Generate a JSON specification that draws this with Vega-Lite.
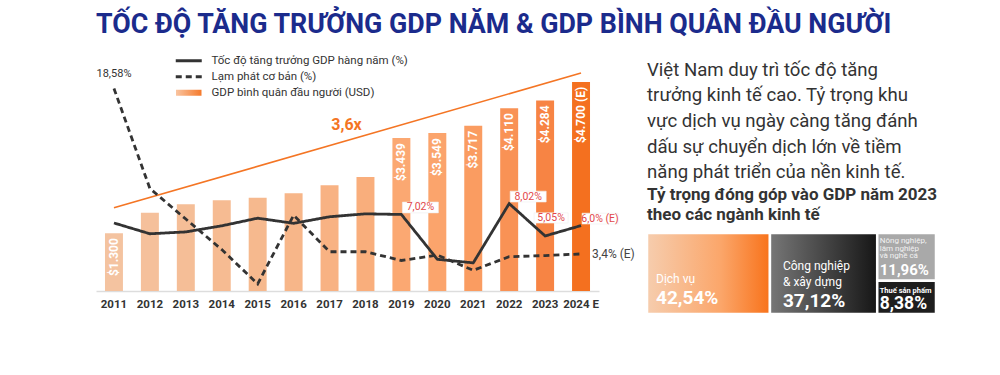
{
  "$schema": "https://vega.github.io/schema/vega-lite/v6.json",
  "background": "white",
  "padding": {"left": 96, "top": 12, "right": 5, "bottom": 5},
  "config": {
    "font": "Roboto",
    "view": {"stroke": null},
    "axisX": {"labelFontWeight": "bold", "labelFontSize": 11.5, "labelColor": "#333333", "ticks": false, "domainColor": "#dddddd", "domainWidth": 1.5, "labelPadding": 7, "labelAngle": 0, "title": null, "grid": false}
  },
  "title": {"text": "TỐC ĐỘ TĂNG TRƯỞNG GDP NĂM & GDP BÌNH QUÂN ĐẦU NGƯỜI", "anchor": "start", "font": "Roboto", "fontSize": 26.8, "fontWeight": "bold", "color": "#1b2b8c", "offset": 16},
  "datasets": {
    "gdp": [
      {"year": "2011", "usd": 1300, "label": "$1.300"},
      {"year": "2012", "usd": 1760, "label": ""},
      {"year": "2013", "usd": 1950, "label": ""},
      {"year": "2014", "usd": 2040, "label": ""},
      {"year": "2015", "usd": 2097, "label": ""},
      {"year": "2016", "usd": 2200, "label": ""},
      {"year": "2017", "usd": 2375, "label": ""},
      {"year": "2018", "usd": 2560, "label": ""},
      {"year": "2019", "usd": 3439, "label": "$3.439"},
      {"year": "2020", "usd": 3549, "label": "$3.549"},
      {"year": "2021", "usd": 3717, "label": "$3.717"},
      {"year": "2022", "usd": 4110, "label": "$4.110"},
      {"year": "2023", "usd": 4284, "label": "$4.284"},
      {"year": "2024 E", "usd": 4700, "label": "$4.700 (E)"}
    ],
    "rates": [
      {"year": "2011", "series": "Tốc độ tăng trưởng GDP hàng năm (%)", "value": 6.24, "label": ""},
      {"year": "2012", "series": "Tốc độ tăng trưởng GDP hàng năm (%)", "value": 5.25, "label": ""},
      {"year": "2013", "series": "Tốc độ tăng trưởng GDP hàng năm (%)", "value": 5.42, "label": ""},
      {"year": "2014", "series": "Tốc độ tăng trưởng GDP hàng năm (%)", "value": 5.98, "label": ""},
      {"year": "2015", "series": "Tốc độ tăng trưởng GDP hàng năm (%)", "value": 6.68, "label": ""},
      {"year": "2016", "series": "Tốc độ tăng trưởng GDP hàng năm (%)", "value": 6.21, "label": ""},
      {"year": "2017", "series": "Tốc độ tăng trưởng GDP hàng năm (%)", "value": 6.81, "label": ""},
      {"year": "2018", "series": "Tốc độ tăng trưởng GDP hàng năm (%)", "value": 7.08, "label": ""},
      {"year": "2019", "series": "Tốc độ tăng trưởng GDP hàng năm (%)", "value": 7.02, "label": "7,02%"},
      {"year": "2020", "series": "Tốc độ tăng trưởng GDP hàng năm (%)", "value": 2.91, "label": ""},
      {"year": "2021", "series": "Tốc độ tăng trưởng GDP hàng năm (%)", "value": 2.58, "label": ""},
      {"year": "2022", "series": "Tốc độ tăng trưởng GDP hàng năm (%)", "value": 8.02, "label": "8,02%"},
      {"year": "2023", "series": "Tốc độ tăng trưởng GDP hàng năm (%)", "value": 5.05, "label": "5,05%"},
      {"year": "2024 E", "series": "Tốc độ tăng trưởng GDP hàng năm (%)", "value": 6.0, "label": "6,0% (E)"},
      {"year": "2011", "series": "Lạm phát cơ bản (%)", "value": 18.58, "label": "18,58%"},
      {"year": "2012", "series": "Lạm phát cơ bản (%)", "value": 9.4, "label": ""},
      {"year": "2013", "series": "Lạm phát cơ bản (%)", "value": 6.6, "label": ""},
      {"year": "2014", "series": "Lạm phát cơ bản (%)", "value": 3.8, "label": ""},
      {"year": "2015", "series": "Lạm phát cơ bản (%)", "value": 0.65, "label": ""},
      {"year": "2016", "series": "Lạm phát cơ bản (%)", "value": 6.95, "label": ""},
      {"year": "2017", "series": "Lạm phát cơ bản (%)", "value": 3.6, "label": ""},
      {"year": "2018", "series": "Lạm phát cơ bản (%)", "value": 3.6, "label": ""},
      {"year": "2019", "series": "Lạm phát cơ bản (%)", "value": 2.8, "label": ""},
      {"year": "2020", "series": "Lạm phát cơ bản (%)", "value": 3.3, "label": ""},
      {"year": "2021", "series": "Lạm phát cơ bản (%)", "value": 1.9, "label": ""},
      {"year": "2022", "series": "Lạm phát cơ bản (%)", "value": 3.15, "label": ""},
      {"year": "2023", "series": "Lạm phát cơ bản (%)", "value": 3.25, "label": ""},
      {"year": "2024 E", "series": "Lạm phát cơ bản (%)", "value": 3.4, "label": "3,4% (E)"}
    ],
    "trend": [
      {"year": "2011", "usd": 1870},
      {"year": "2024 E", "usd": 4900}
    ],
    "note": [
      {"year": "2017", "usd": 3740, "text": "3,6x"}
    ],
    "sectors": [
      {"name": "Dịch vụ", "share": 42.54, "label": "42,54%", "col": 1, "ord": 1},
      {"name": "Công nghiệp\n& xây dựng", "share": 37.12, "label": "37,12%", "col": 2, "ord": 1},
      {"name": "Nông nghiệp,\nlâm nghiệp\nvà nghề cá", "share": 11.96, "label": "11,96%", "col": 3, "ord": 1},
      {"name": "Thuế sản phẩm", "share": 8.38, "label": "8,38%", "col": 3, "ord": 2}
    ]
  },
  "spacing": 10,
  "hconcat": [
    {
      "width": 503,
      "height": 230,
      "resolve": {"scale": {"y": "independent"}},
      "layer": [
        {
          "data": {"name": "gdp"},
          "mark": {"type": "bar"},
          "encoding": {
            "x": {"field": "year", "type": "nominal", "title": null, "scale": {"paddingInner": 0.5, "paddingOuter": 0.25}},
            "y": {"field": "usd", "type": "quantitative", "scale": {"domain": [0, 5170]}, "axis": null},
            "color": {"field": "year", "type": "nominal", "legend": null, "scale": {"range": ["#f4c3a0", "#f5c09b", "#f5be97", "#f6bb92", "#f6b98e", "#f7b689", "#f8b283", "#f9ae7c", "#fba872", "#fba46c", "#fa9c61", "#f99255", "#f78444", "#f4701f"]}}
          }
        },
        {
          "data": {"name": "gdp"},
          "transform": [{"filter": "datum.label != ''"}],
          "mark": {"type": "text", "angle": 270, "align": "right", "baseline": "middle", "dx": -5, "fontSize": 12, "fontWeight": "bold", "color": "white"},
          "encoding": {
            "x": {"field": "year", "type": "nominal", "title": null},
            "y": {"field": "usd", "type": "quantitative", "scale": {"domain": [0, 5170]}, "axis": null},
            "text": {"field": "label"}
          }
        },
        {
          "data": {"name": "trend"},
          "mark": {"type": "line", "color": "#f47524", "strokeWidth": 1.6},
          "encoding": {
            "x": {"field": "year", "type": "nominal", "title": null},
            "y": {"field": "usd", "type": "quantitative", "scale": {"domain": [0, 5170]}, "axis": null}
          }
        },
        {
          "data": {"name": "note"},
          "mark": {"type": "text", "dx": 17, "fontSize": 16, "fontWeight": "bold", "color": "#f47524", "baseline": "middle"},
          "encoding": {
            "x": {"field": "year", "type": "nominal", "title": null},
            "y": {"field": "usd", "type": "quantitative", "scale": {"domain": [0, 5170]}, "axis": null},
            "text": {"field": "text"}
          }
        },
        {
          "data": {"name": "rates"},
          "mark": {"type": "line", "strokeWidth": 2.8},
          "encoding": {
            "x": {"field": "year", "type": "nominal", "title": null},
            "y": {"field": "value", "type": "quantitative", "scale": {"domain": [0, 21.1]}, "axis": null},
            "stroke": {
              "field": "series", "type": "nominal",
              "scale": {"domain": ["Tốc độ tăng trưởng GDP hàng năm (%)", "Lạm phát cơ bản (%)", "GDP bình quân đầu người (USD)"], "range": ["#333333", "#333333", "#f7a066"]},
              "legend": {"title": null, "orient": "none", "legendX": 87, "legendY": -6, "symbolType": "M-2.6,0H2.6", "symbolSize": 100, "labelFontSize": 11.5, "labelColor": "#333333", "labelFont": "Roboto", "labelOffset": 17, "labelLimit": 400, "rowPadding": 3,
                "encode": {"symbols": {"update": {
                  "strokeWidth": {"signal": "datum.value === 'GDP bình quân đầu người (USD)' ? 0 : 3"},
                  "shape": {"signal": "datum.value === 'GDP bình quân đầu người (USD)' ? 'M-2.55,-0.6H2.55V0.6H-2.55Z' : 'M-2.6,0H2.6'"},
                  "fill": {"signal": "datum.value === 'GDP bình quân đầu người (USD)' ? {gradient: 'linear', x1: 0, y1: 0, x2: 1, y2: 0, stops: [{offset: 0, color: '#f9c4a0'}, {offset: 1, color: '#f57a2c'}]} : 'transparent'"}
                }}}}
            },
            "strokeDash": {
              "field": "series", "type": "nominal",
              "scale": {"domain": ["Tốc độ tăng trưởng GDP hàng năm (%)", "Lạm phát cơ bản (%)", "GDP bình quân đầu người (USD)"], "range": [[1, 0], [6, 4], [1, 0]]},
              "legend": {"title": null, "orient": "none", "legendX": 87, "legendY": -6, "symbolType": "M-2.6,0H2.6", "symbolSize": 100, "labelFontSize": 11.5, "labelColor": "#333333", "labelFont": "Roboto", "labelOffset": 17, "labelLimit": 400, "rowPadding": 3,
                "encode": {"symbols": {"update": {
                  "strokeWidth": {"signal": "datum.value === 'GDP bình quân đầu người (USD)' ? 0 : 3"},
                  "shape": {"signal": "datum.value === 'GDP bình quân đầu người (USD)' ? 'M-2.55,-0.6H2.55V0.6H-2.55Z' : 'M-2.6,0H2.6'"},
                  "fill": {"signal": "datum.value === 'GDP bình quân đầu người (USD)' ? {gradient: 'linear', x1: 0, y1: 0, x2: 1, y2: 0, stops: [{offset: 0, color: '#f9c4a0'}, {offset: 1, color: '#f57a2c'}]} : 'transparent'"}
                }}}}
            }
          }
        },
        {
          "data": {"name": "rates"},
          "transform": [{"filter": "indexof(['7,02%', '8,02%', '6,0% (E)'], datum.label) >= 0"}],
          "mark": {"type": "point", "shape": "M-1,-0.3H1V0.3H-1Z", "size": 1296, "filled": true, "color": "white", "opacity": 1, "stroke": "#eeeeee", "strokeWidth": 0.6, "xOffset": 19, "yOffset": -7},
          "encoding": {
            "x": {"field": "year", "type": "nominal", "title": null},
            "y": {"field": "value", "type": "quantitative", "scale": {"domain": [0, 21.1]}, "axis": null}
          }
        },
        {
          "data": {"name": "rates"},
          "transform": [{"filter": "indexof(['7,02%', '8,02%', '6,0% (E)'], datum.label) >= 0"}],
          "mark": {"type": "text", "dx": 19, "dy": -7, "align": "center", "baseline": "middle", "fontSize": 10.5, "color": "#e2474a"},
          "encoding": {
            "x": {"field": "year", "type": "nominal", "title": null},
            "y": {"field": "value", "type": "quantitative", "scale": {"domain": [0, 21.1]}, "axis": null},
            "text": {"field": "label"}
          }
        },
        {
          "data": {"name": "rates"},
          "transform": [{"filter": "datum.label == '5,05%'"}],
          "mark": {"type": "point", "shape": "M-1,-0.3H1V0.3H-1Z", "size": 1156, "filled": true, "color": "white", "opacity": 1, "stroke": "#eeeeee", "strokeWidth": 0.6, "xOffset": 6, "yOffset": -18},
          "encoding": {
            "x": {"field": "year", "type": "nominal", "title": null},
            "y": {"field": "value", "type": "quantitative", "scale": {"domain": [0, 21.1]}, "axis": null}
          }
        },
        {
          "data": {"name": "rates"},
          "transform": [{"filter": "datum.label == '5,05%'"}],
          "mark": {"type": "text", "dx": 6, "dy": -18, "align": "center", "baseline": "middle", "fontSize": 10.5, "color": "#e2474a"},
          "encoding": {
            "x": {"field": "year", "type": "nominal", "title": null},
            "y": {"field": "value", "type": "quantitative", "scale": {"domain": [0, 21.1]}, "axis": null},
            "text": {"field": "label"}
          }
        },
        {
          "data": {"name": "rates"},
          "transform": [{"filter": "datum.label == '18,58%'"}],
          "mark": {"type": "text", "dy": -14, "align": "center", "baseline": "middle", "fontSize": 11, "color": "#333333"},
          "encoding": {
            "x": {"field": "year", "type": "nominal", "title": null},
            "y": {"field": "value", "type": "quantitative", "scale": {"domain": [0, 21.1]}, "axis": null},
            "text": {"field": "label"}
          }
        },
        {
          "data": {"name": "rates"},
          "transform": [{"filter": "datum.label == '3,4% (E)'"}],
          "mark": {"type": "text", "dx": 11, "align": "left", "baseline": "middle", "fontSize": 12, "color": "#444444"},
          "encoding": {
            "x": {"field": "year", "type": "nominal", "title": null},
            "y": {"field": "value", "type": "quantitative", "scale": {"domain": [0, 21.1]}, "axis": null},
            "text": {"field": "label"}
          }
        }
      ]
    },
    {
      "width": 289,
      "height": 253,
      "title": {
        "text": ["Việt Nam duy trì tốc độ tăng", "trưởng kinh tế cao. Tỷ trọng khu", "vực dịch vụ ngày càng tăng đánh", "dấu sự chuyển dịch lớn về tiềm", "năng phát triển của nền kinh tế."],
        "subtitle": ["Tỷ trọng đóng góp vào GDP năm 2023", "theo các ngành kinh tế"],
        "anchor": "start", "frame": "group",
        "font": "Roboto", "fontSize": 18.6, "fontWeight": "normal", "color": "#333333", "lineHeight": 25.7,
        "subtitleFont": "Roboto", "subtitleFontSize": 17, "subtitleFontWeight": "bold", "subtitleColor": "#333333", "subtitleLineHeight": 20, "subtitlePadding": 5,
        "offset": -162
      },
      "data": {"name": "sectors"},
      "transform": [
        {"stack": "share", "groupby": [], "sort": [{"field": "col", "order": "ascending"}, {"field": "ord", "order": "ascending"}], "as": ["sx0", "sx1"]},
        {"window": [{"op": "min", "field": "sx0", "as": "x0"}, {"op": "max", "field": "sx1", "as": "x1"}], "groupby": ["col"], "frame": [null, null]},
        {"stack": "share", "groupby": ["col"], "sort": [{"field": "ord", "order": "ascending"}], "offset": "normalize", "as": ["y0", "y1"]}
      ],
      "layer": [
        {
          "transform": [{"filter": "datum.col == 1"}],
          "mark": {"type": "rect", "stroke": "white", "strokeWidth": 2.5,
            "fill": {"gradient": "linear", "x1": 0, "x2": 1, "y1": 0, "y2": 0, "stops": [{"offset": 0, "color": "#f6cdae"}, {"offset": 0.6, "color": "#fba66a"}, {"offset": 1, "color": "#f8721a"}]}},
          "encoding": {
            "x": {"field": "x0", "type": "quantitative", "scale": {"domain": [0, 100]}, "axis": null},
            "x2": {"field": "x1"},
            "y": {"field": "y0", "type": "quantitative", "scale": {"domain": [-2.1235, 1], "reverse": true, "zero": false, "nice": false}, "axis": null},
            "y2": {"field": "y1"}
          }
        },
        {
          "transform": [{"filter": "datum.col == 2"}],
          "mark": {"type": "rect", "stroke": "white", "strokeWidth": 2.5,
            "fill": {"gradient": "linear", "x1": 0, "x2": 1, "y1": 0, "y2": 0, "stops": [{"offset": 0, "color": "#777777"}, {"offset": 1, "color": "#161616"}]}},
          "encoding": {
            "x": {"field": "x0", "type": "quantitative", "scale": {"domain": [0, 100]}, "axis": null},
            "x2": {"field": "x1"},
            "y": {"field": "y0", "type": "quantitative", "scale": {"domain": [-2.1235, 1], "reverse": true, "zero": false, "nice": false}, "axis": null},
            "y2": {"field": "y1"}
          }
        },
        {
          "transform": [{"filter": "datum.col == 3 && datum.ord == 1"}],
          "mark": {"type": "rect", "stroke": "white", "strokeWidth": 2.5, "fill": "#a9a9a9"},
          "encoding": {
            "x": {"field": "x0", "type": "quantitative", "scale": {"domain": [0, 100]}, "axis": null},
            "x2": {"field": "x1"},
            "y": {"field": "y0", "type": "quantitative", "scale": {"domain": [-2.1235, 1], "reverse": true, "zero": false, "nice": false}, "axis": null},
            "y2": {"field": "y1"}
          }
        },
        {
          "transform": [{"filter": "datum.col == 3 && datum.ord == 2"}],
          "mark": {"type": "rect", "stroke": "white", "strokeWidth": 2.5, "fill": "#1e1e1e"},
          "encoding": {
            "x": {"field": "x0", "type": "quantitative", "scale": {"domain": [0, 100]}, "axis": null},
            "x2": {"field": "x1"},
            "y": {"field": "y0", "type": "quantitative", "scale": {"domain": [-2.1235, 1], "reverse": true, "zero": false, "nice": false}, "axis": null},
            "y2": {"field": "y1"}
          }
        },
        {
          "transform": [{"filter": "datum.col == 1"}],
          "mark": {"type": "text", "align": "left", "baseline": "alphabetic", "dx": 9, "dy": -31, "fontSize": 12, "color": "white", "lineBreak": "\n", "lineHeight": 15},
          "encoding": {
            "x": {"field": "x0", "type": "quantitative", "scale": {"domain": [0, 100]}, "axis": null},
            "y": {"field": "y1", "type": "quantitative", "scale": {"domain": [-2.1235, 1], "reverse": true, "zero": false, "nice": false}, "axis": null},
            "text": {"field": "name"}
          }
        },
        {
          "transform": [{"filter": "datum.col == 1"}],
          "mark": {"type": "text", "align": "left", "baseline": "alphabetic", "dx": 9, "dy": -10, "fontSize": 19, "fontWeight": "bold", "color": "white"},
          "encoding": {
            "x": {"field": "x0", "type": "quantitative", "scale": {"domain": [0, 100]}, "axis": null},
            "y": {"field": "y1", "type": "quantitative", "scale": {"domain": [-2.1235, 1], "reverse": true, "zero": false, "nice": false}, "axis": null},
            "text": {"field": "label"}
          }
        },
        {
          "transform": [{"filter": "datum.col == 2"}],
          "mark": {"type": "text", "align": "left", "baseline": "alphabetic", "dx": 13, "dy": -44, "fontSize": 12, "color": "white", "lineBreak": "\n", "lineHeight": 15.5},
          "encoding": {
            "x": {"field": "x0", "type": "quantitative", "scale": {"domain": [0, 100]}, "axis": null},
            "y": {"field": "y1", "type": "quantitative", "scale": {"domain": [-2.1235, 1], "reverse": true, "zero": false, "nice": false}, "axis": null},
            "text": {"field": "name"}
          }
        },
        {
          "transform": [{"filter": "datum.col == 2"}],
          "mark": {"type": "text", "align": "left", "baseline": "alphabetic", "dx": 13, "dy": -7, "fontSize": 19, "fontWeight": "bold", "color": "white"},
          "encoding": {
            "x": {"field": "x0", "type": "quantitative", "scale": {"domain": [0, 100]}, "axis": null},
            "y": {"field": "y1", "type": "quantitative", "scale": {"domain": [-2.1235, 1], "reverse": true, "zero": false, "nice": false}, "axis": null},
            "text": {"field": "label"}
          }
        },
        {
          "transform": [{"filter": "datum.col == 3 && datum.ord == 1"}],
          "mark": {"type": "text", "align": "left", "baseline": "top", "dx": 2.5, "dy": 4, "fontSize": 8, "color": "#f2f2f2", "lineBreak": "\n", "lineHeight": 7.5},
          "encoding": {
            "x": {"field": "x0", "type": "quantitative", "scale": {"domain": [0, 100]}, "axis": null},
            "y": {"field": "y0", "type": "quantitative", "scale": {"domain": [-2.1235, 1], "reverse": true, "zero": false, "nice": false}, "axis": null},
            "text": {"field": "name"}
          }
        },
        {
          "transform": [{"filter": "datum.col == 3 && datum.ord == 2"}],
          "mark": {"type": "text", "align": "left", "baseline": "top", "dx": 2.5, "dy": 6, "fontSize": 7.5, "fontWeight": "bold", "color": "white"},
          "encoding": {
            "x": {"field": "x0", "type": "quantitative", "scale": {"domain": [0, 100]}, "axis": null},
            "y": {"field": "y0", "type": "quantitative", "scale": {"domain": [-2.1235, 1], "reverse": true, "zero": false, "nice": false}, "axis": null},
            "text": {"field": "name"}
          }
        },
        {
          "transform": [{"filter": "datum.col == 3 && datum.ord == 1"}],
          "mark": {"type": "text", "align": "left", "baseline": "alphabetic", "dx": 2.5, "dy": -6, "fontSize": 15, "fontWeight": "bold", "color": "white"},
          "encoding": {
            "x": {"field": "x0", "type": "quantitative", "scale": {"domain": [0, 100]}, "axis": null},
            "y": {"field": "y1", "type": "quantitative", "scale": {"domain": [-2.1235, 1], "reverse": true, "zero": false, "nice": false}, "axis": null},
            "text": {"field": "label"}
          }
        },
        {
          "transform": [{"filter": "datum.col == 3 && datum.ord == 2"}],
          "mark": {"type": "text", "align": "left", "baseline": "alphabetic", "dx": 2.5, "dy": -5, "fontSize": 17.5, "fontWeight": "bold", "color": "white"},
          "encoding": {
            "x": {"field": "x0", "type": "quantitative", "scale": {"domain": [0, 100]}, "axis": null},
            "y": {"field": "y1", "type": "quantitative", "scale": {"domain": [-2.1235, 1], "reverse": true, "zero": false, "nice": false}, "axis": null},
            "text": {"field": "label"}
          }
        }
      ]
    }
  ]
}
